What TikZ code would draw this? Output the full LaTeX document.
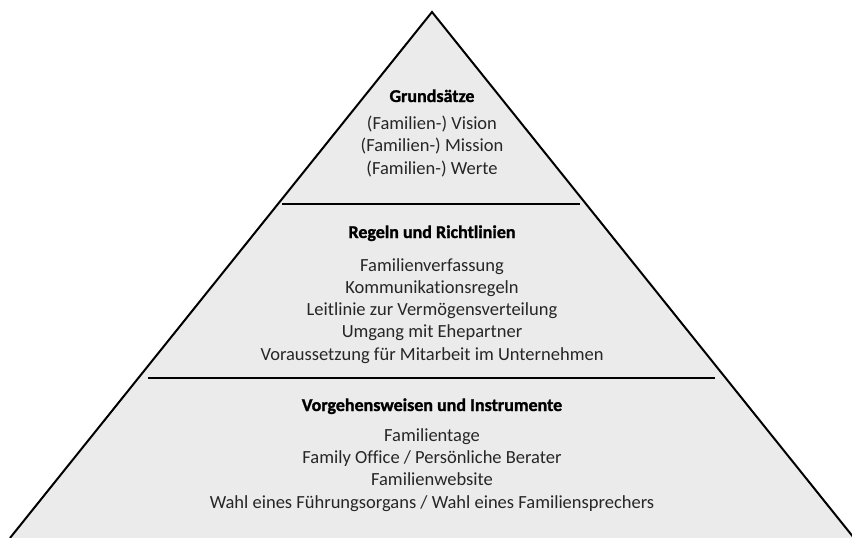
\documentclass[tikz,border=0pt]{standalone}
\usepackage{fontspec}
\setmainfont{Carlito}[Ligatures={TeX,NoCommon}]
\newfontfamily\headfont{Carlito}[Ligatures={TeX,NoCommon}, BoldFeatures={FakeBold=1.3}]
\tikzset{
  tier/.style={font=\fontsize{18.5}{22.2}\selectfont, text=black!85, align=center, inner sep=0pt, anchor=base},
  tierhead/.style={font=\headfont\bfseries\fontsize{18}{22}\selectfont, inner sep=0pt, anchor=base},
}
\begin{document}
\begin{tikzpicture}[x=1pt, y=-1pt]
  \useasboundingbox (0,0) rectangle (852,538);
  \fill[black!8] (10,538) -- (432,12) -- (854,538) -- cycle;
  \draw[line width=2pt] (10,538) -- (432,12) -- (854,538);
  \draw[line width=1.6pt] (282,204) -- (580,204);
  \draw[line width=1.6pt] (148,378) -- (715,378);
  % top tier (base = last line)
  \node[tierhead] (grund) at (432,102) {Grundsätze};
  \node[tier] (grundtxt) at (432,174) {(Familien-) Vision\\(Familien-) Mission\\(Familien-) Werte};
  % middle tier
  \node[tierhead] (regeln) at (432,238) {Regeln und Richtlinien};
  \node[tier] (regelntxt) at (432,360) {Familienverfassung\\Kommunikationsregeln\\Leitlinie zur Vermögensverteilung\\Umgang mit Ehepartner\\Voraussetzung für Mitarbeit im Unternehmen};
  % bottom tier
  \node[tierhead] (vorg) at (432,411) {Vorgehensweisen und Instrumente};
  \node[tier] (vorgtxt) at (432,508) {Familientage\\Family Office / Persönliche Berater\\Familienwebsite\\Wahl eines Führungsorgans / Wahl eines Familiensprechers};
\end{tikzpicture}
\end{document}
